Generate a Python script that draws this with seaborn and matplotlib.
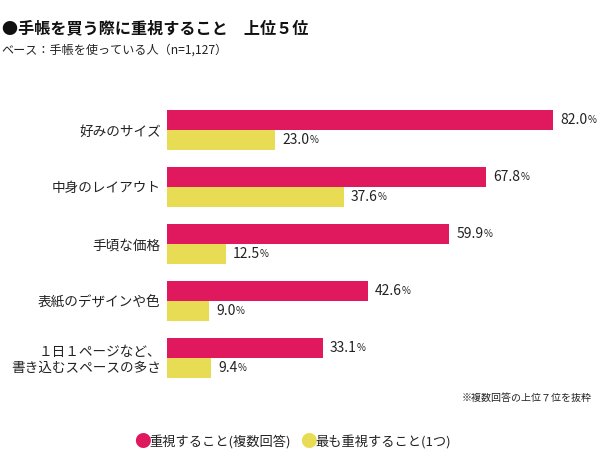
import numpy as np
import pandas as pd
import matplotlib
matplotlib.use('Agg')
import matplotlib.pyplot as plt
import seaborn as sns

# ── data ───────────────────────────────────────────────
items = ['好みのサイズ', '中身のレイアウト', '手頃な価格', '表紙のデザインや色',
         '１日１ページなど、\n書き込むスペースの多さ']
multi = [82.0, 67.8, 59.9, 42.6, 33.1]   # 重視すること(複数回答)
top1  = [23.0, 37.6, 12.5, 9.0, 9.4]     # 最も重視すること(1つ)
series = ['重視すること(複数回答)', '最も重視すること(1つ)']
colors = ['#E0195E', '#E8DC55']

df = pd.DataFrame({
    'item' : items * 2,
    'value': multi + top1,
    'series': [series[0]] * len(items) + [series[1]] * len(items),
})

sns.set_style('white')
plt.rcParams['font.family'] = ['Noto Sans CJK JP', 'DejaVu Sans']

fig = plt.figure(figsize=(6.0, 4.7), dpi=100)
ax = fig.add_axes([167/600, 0.1777, 424/600, 0.6064])

sns.barplot(data=df, y='item', x='value', hue='series', orient='h',
            palette=colors, width=0.71, ax=ax, legend=False,
            saturation=1, linewidth=0)

ax.set_xlim(0, 90)
ax.set_ylim(4.5, -0.5)
ax.set_xlabel('')
ax.set_ylabel('')
ax.set_xticks([])
sns.despine(ax=ax, left=True, bottom=True)
ax.tick_params(axis='y', length=0, pad=4.5, labelsize=9.8, labelcolor='#222222')
for lab in ax.get_yticklabels():
    lab.set_horizontalalignment('right')
    lab.set_multialignment('right')
    lab.set_linespacing(1.1)

# value labels: number + small %
for cont in ax.containers:
    for bar in cont:
        w = bar.get_width()
        yc = bar.get_y() + bar.get_height() / 2
        t = ax.annotate(f'{w:.1f}', xy=(w, yc), xytext=(5, 0),
                        textcoords='offset points', va='center', ha='left',
                        fontsize=10, color='#222222')
        ax.annotate('%', xy=(1, 0.15), xycoords=t, va='bottom', ha='left',
                    fontsize=7, color='#222222')

# titles
fig.text(0.003, 1 - 28/470, '●手帳を買う際に重視すること　上位５位', fontsize=11.6,
         fontweight='bold', va='center', ha='left', color='#111111')
fig.text(0.003, 1 - 50/470, 'ベース：手帳を使っている人（n=1,127）', fontsize=8.7,
         va='center', ha='left', color='#222222')
fig.text(592/600, 1 - 398/470, '※複数回答の上位７位を抜粋', fontsize=7.2,
         va='center', ha='right', color='#222222')

# legend
fig.text(142/600, 1 - 443/470, '●', fontsize=12, color=colors[0], va='center', ha='center')
fig.text(149/600, 1 - 443/470, series[0], fontsize=9.5, color='#222222', va='center', ha='left')
fig.text(308/600, 1 - 443/470, '●', fontsize=12, color=colors[1], va='center', ha='center')
fig.text(315/600, 1 - 443/470, series[1], fontsize=9.5, color='#222222', va='center', ha='left')

fig.savefig('out.png', dpi=100)
